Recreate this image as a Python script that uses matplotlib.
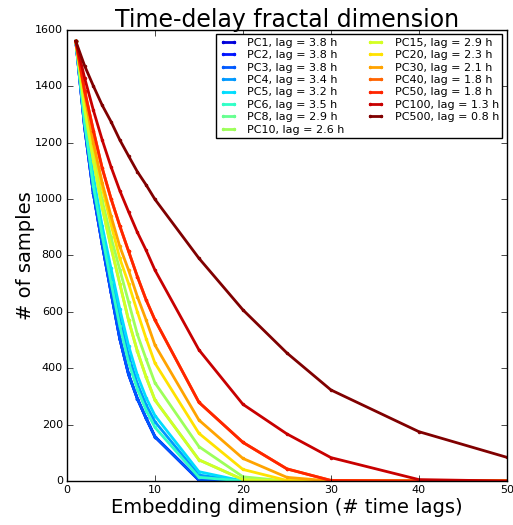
import numpy as np
import matplotlib
matplotlib.use("Agg")
import matplotlib.pyplot as plt

# embedding dimensions used
dims = [1, 2, 3, 4, 5, 6, 7, 8, 9, 10, 15, 20, 25, 30, 40, 50]

pcs = ["PC1", "PC2", "PC3", "PC4", "PC5", "PC6", "PC8", "PC10",
       "PC15", "PC20", "PC30", "PC40", "PC50", "PC100", "PC500"]
lags = [3.8, 3.8, 3.8, 3.4, 3.2, 3.5, 2.9, 2.6, 2.9, 2.3, 2.1, 1.8, 1.8, 1.3, 0.8]

# number of samples left for each embedding dimension
pc1 = [1560, 1255, 1020, 840, 670, 505, 378, 292, 222, 157, 3, 0, 0, 0, 0, 0]
pc2 = [1560, 1255, 1020, 840, 670, 505, 378, 292, 222, 157, 3, 0, 0, 0, 0, 0]
pc3 = [1560, 1255, 1020, 840, 670, 505, 378, 292, 222, 157, 3, 0, 0, 0, 0, 0]
pc4 = [1560, 1280, 1060, 885, 725, 575, 445, 345, 270, 210, 21, 0, 0, 0, 0, 0]
pc5 = [1560, 1290, 1080, 905, 755, 610, 480, 375, 295, 232, 33, 0, 0, 0, 0, 0]
pc6 = [1560, 1270, 1045, 870, 705, 550, 420, 325, 250, 190, 13, 0, 0, 0, 0, 0]
pc8 = [1560, 1320, 1135, 970, 830, 700, 570, 460, 368, 287, 75, 5, 0, 0, 0, 0]
pc10 = [1560, 1345, 1155, 995, 865, 750, 635, 520, 432, 348, 122, 15, 0, 0, 0, 0]
pc15 = [1560, 1320, 1135, 970, 830, 700, 570, 460, 368, 287, 75, 5, 0, 0, 0, 0]
pc20 = [1560, 1370, 1190, 1040, 910, 790, 700, 600, 505, 418, 169, 41, 2, 0, 0, 0]
pc30 = [1560, 1375, 1200, 1058, 940, 832, 748, 654, 571, 482, 216, 80, 13, 0, 0, 0]
pc40 = [1560, 1385, 1243, 1110, 1002, 905, 815, 725, 642, 571, 279, 137, 43, 2, 0, 0]
pc50 = [1560, 1385, 1243, 1110, 1002, 905, 815, 725, 642, 571, 279, 137, 43, 2, 0, 0]
pc100 = [1560, 1430, 1315, 1210, 1115, 1030, 955, 882, 818, 748, 465, 272, 167, 83, 5, 0]
pc500 = [1560, 1473, 1401, 1333, 1275, 1210, 1153, 1097, 1050, 999, 790, 607, 454, 323, 175, 84]

samples = [pc1, pc2, pc3, pc4, pc5, pc6, pc8, pc10, pc15, pc20, pc30, pc40, pc50, pc100, pc500]

plt.style.use("classic")
plt.rcParams["font.family"] = ["DejaVu Sans"]

fig = plt.figure(figsize=(5.13, 5.25), dpi=100, facecolor="white")
ax = fig.add_axes([0.1306, 0.0838, 0.8574, 0.8592])

colors = plt.cm.jet(np.linspace(0.08, 1, len(pcs)))
for name, lag, vals, c in zip(pcs, lags, samples, colors):
    ax.plot(dims, vals, color=c, linewidth=2, marker=".", markersize=4,
            markeredgecolor=c, label="%s, lag = %.1f h" % (name, lag))

ax.set_xlim(0, 50)
ax.set_ylim(0, 1600)
ax.set_xticks(range(0, 51, 10))
ax.set_yticks(range(0, 1601, 200))
ax.tick_params(labelsize=8, pad=3)

ax.set_title("Time-delay fractal dimension", fontsize=17, pad=2)
ax.set_xlabel("Embedding dimension (# time lags)", fontsize=14, labelpad=2)
ax.set_ylabel("# of samples", fontsize=14, labelpad=0)

ax.legend(loc="upper right", ncol=2, fontsize=8, numpoints=2,
          handlelength=1.6, handletextpad=0.9, columnspacing=2.0,
          labelspacing=0.22, borderpad=0.3, borderaxespad=0.4,
          fancybox=False)

fig.savefig("out.png", dpi=100, facecolor="white")
